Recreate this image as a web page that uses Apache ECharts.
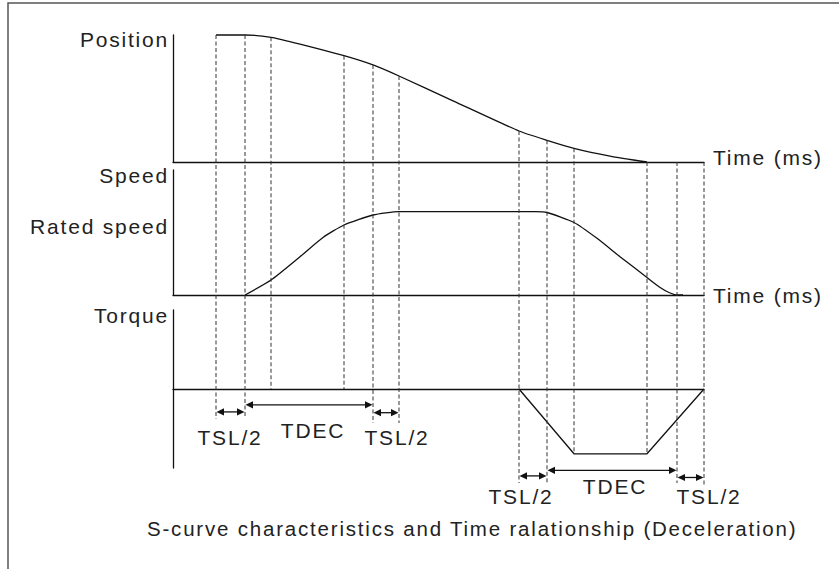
<!DOCTYPE html>
<html><head><meta charset="utf-8">
<script src="https://cdn.jsdelivr.net/npm/echarts@6/dist/echarts.min.js"></script>
<style>
html,body{margin:0;padding:0;background:#fff}
#main{width:839px;height:569px}
#main svg text{letter-spacing:1.8px}
</style></head><body><div id="main"></div>
<script>
// ---- data (time axis in diagram units) ----
const posT = [43, 72, 98, 127, 171, 200, 226, 280, 346, 374, 401, 437, 474];
const posV = [100, 100, 98.2, 92.9, 83.7, 76.4, 67.7, 48.2, 24.4, 17.1, 10.8, 4.7, 0];

const speedT = [72, 98, 127, 150, 171, 200, 226, 362, 374, 401, 424, 447, 474, 486, 496, 504, 510];
const speedV = [0, 18, 46, 69, 84, 96, 100, 100, 99, 87, 68, 46, 21, 10, 3, 0, 0];
const speedTickLabels = { 100: 'Rated speed' };

const torqueT = [346, 401, 474, 531];
const torqueV = [0, -82, -82, 0];

// guide (dashed) lines: time and the torque-axis level where each stops
const guideT   = [43, 72, 98, 171, 200, 226, 346, 374, 401, 474, 504, 531];
const guideEnd = [-38, -37, 0, 0, -43, -43, -119, -119, -82, -82, -119, -121];

// spans: [from, to, level (torque-axis units)]
const spanFrom  = [43, 72, 200, 346, 374, 504];
const spanTo    = [72, 200, 226, 374, 504, 531];
const spanLevel = [-29, -20, -30, -110, -103, -112];
const spanText  = ['TSL/2', 'TDEC', 'TSL/2', 'TSL/2', 'TDEC', 'TSL/2'];
const spanTextT = [57, 140, 224, 348, 442, 536];
const spanTextV = [-61, -52, -61, -136, -124, -136];

const panelNames = ['Position', 'Speed', 'Torque'];
const timeName = 'Time (ms)';
const titleText = 'S-curve characteristics and Time ralationship (Deceleration)';

// ---- chart ----
const FONT = '"Liberation Sans", Arial, sans-serif';
const FS = 21;
const TXT = '#222';
const LINE = '#111';
const zip = (a, b) => a.map((v, i) => [v, b[i]]);

const chart = echarts.init(document.getElementById('main'), null, { renderer: 'svg' });

const grids = [
  { left: 173, top: 35, width: 531, height: 127 },
  { left: 173, top: 170, width: 531, height: 125 },
  { left: 173, top: 310, width: 531, height: 158 }
];
const axisLineStyle = { show: true, lineStyle: { color: LINE, width: 1.3 } };
const nameStyle = (extra) => Object.assign({ fontSize: FS, fontFamily: FONT, color: TXT }, extra);

const xAxes = [0, 1, 2].map(i => ({
  type: 'value', gridIndex: i, min: 0, max: 531,
  axisLine: axisLineStyle, axisTick: { show: false }, axisLabel: { show: false }, splitLine: { show: false },
  name: i < 2 ? timeName : '', nameLocation: 'end', nameGap: 9,
  nameTextStyle: i === 0
    ? nameStyle({ align: 'left', verticalAlign: 'bottom', lineHeight: 9 })
    : nameStyle({ align: 'left', verticalAlign: 'middle' })
}));

const yNameGap = [-4.2, -5.6, -5.5];
const yRanges = [[0, 100], [0, 150], [-100, 100]];
const yAxes = [0, 1, 2].map(i => ({
  type: 'value', gridIndex: i, min: yRanges[i][0], max: yRanges[i][1], interval: 50,
  axisLine: axisLineStyle, axisTick: { show: false }, splitLine: { show: false },
  axisLabel: i === 1 ? {
    show: true, margin: 4, fontSize: FS, fontFamily: FONT, color: TXT,
    verticalAlign: 'top', lineHeight: 29,
    formatter: v => speedTickLabels[v] || ''
  } : { show: false },
  name: panelNames[i], nameLocation: 'end', nameGap: yNameGap[i],
  nameTextStyle: nameStyle({ align: 'right', verticalAlign: 'middle', padding: [0, 4, 0, 0] })
}));

const lineSeries = (i, data, smooth) => ({
  type: 'line', xAxisIndex: i, yAxisIndex: i, data, smooth, showSymbol: false, symbol: 'none',
  lineStyle: { color: LINE, width: 1.3 }, clip: false, silent: true
});

chart.setOption({
  animation: false,
  backgroundColor: '#fff',
  title: {
    text: titleText, left: 147, top: 518, padding: 0,
    textStyle: { fontSize: 20.5, fontWeight: 'normal', fontFamily: FONT, color: TXT, lineHeight: 21 }
  },
  grid: grids,
  xAxis: xAxes,
  yAxis: yAxes,
  series: [
    lineSeries(0, zip(posT, posV), 0.2),
    lineSeries(1, zip(speedT, speedV), 0.2),
    lineSeries(2, zip(torqueT, torqueV), false)
  ]
});

// ---- overlay: guides, spans, labels (positions from the axes) ----
const toTorque = (t, v) => chart.convertToPixel({ xAxisIndex: 2, yAxisIndex: 2 }, [t, v]);
const toPos = (t, v) => chart.convertToPixel({ xAxisIndex: 0, yAxisIndex: 0 }, [t, v]);
const posAt = t => { const k = posT.indexOf(t); return k >= 0 ? posV[k] : 0; };

const g = [];
g.push({ type: 'rect', shape: { x: 8, y: 3, width: 900, height: 700 },
  style: { fill: 'none', stroke: '#555', lineWidth: 1.5 }, silent: true, z: 1 });

guideT.forEach((t, i) => {
  const a = toPos(t, posAt(t));
  const b = toTorque(t, guideEnd[i]);
  g.push({ type: 'line', shape: { x1: a[0], y1: a[1], x2: b[0], y2: b[1] },
    style: { stroke: '#333', lineWidth: 1, lineDash: [4, 2.5] }, silent: true, z: 5 });
});

const HL = 8, HW = 3.6;
spanFrom.forEach((f, i) => {
  const a = toTorque(f, spanLevel[i]);
  const b = toTorque(spanTo[i], spanLevel[i]);
  const y = a[1];
  g.push({ type: 'line', shape: { x1: a[0] + HL - 1, y1: y, x2: b[0] - HL + 1, y2: y },
    style: { stroke: LINE, lineWidth: 1.3 }, silent: true, z: 6 });
  g.push({ type: 'polygon', shape: { points: [[a[0] + 0.5, y], [a[0] + HL, y - HW], [a[0] + HL, y + HW]] },
    style: { fill: LINE }, silent: true, z: 6 });
  g.push({ type: 'polygon', shape: { points: [[b[0] - 0.5, y], [b[0] - HL, y - HW], [b[0] - HL, y + HW]] },
    style: { fill: LINE }, silent: true, z: 6 });
});

spanText.forEach((s, i) => {
  const p = toTorque(spanTextT[i], spanTextV[i]);
  g.push({ type: 'text', x: p[0], y: p[1],
    style: { text: s, fontSize: FS, fontFamily: FONT, fill: TXT, align: 'center', verticalAlign: 'middle' },
    silent: true, z: 6 });
});

chart.setOption({ graphic: g });
</script>
</body></html>
